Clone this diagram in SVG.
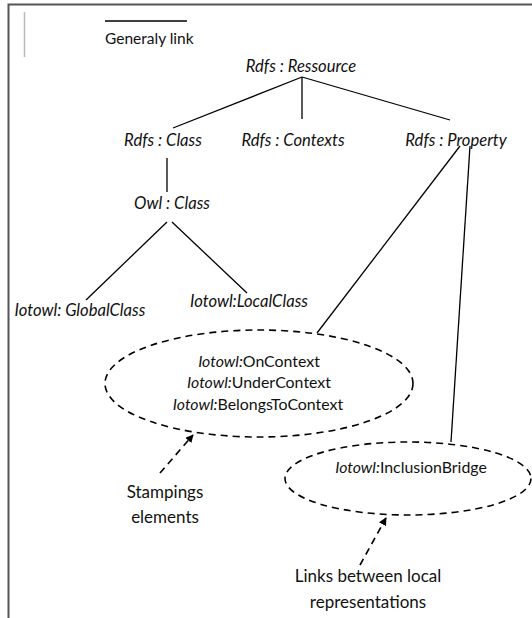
<svg xmlns="http://www.w3.org/2000/svg" width="532" height="618" viewBox="0 0 532 618">
<defs>
<style>
text{font-family:Lato,"Liberation Sans",sans-serif;font-size:15.5px;fill:#111}
.it{font-style:italic;font-size:16.6px}
.el{font-size:15.9px}
.big{font-size:17px}
.ln{stroke:#000;stroke-width:1.3;fill:none}
.dash{stroke:#000;stroke-width:1.6;fill:none;stroke-dasharray:7 5}
.frame{stroke:#555;stroke-width:2;fill:none}
</style>
<marker id="ah" viewBox="0 0 10 10" refX="9" refY="5" markerWidth="5" markerHeight="5" orient="auto" markerUnits="strokeWidth">
<path d="M0,0 L10,5 L0,10 z" fill="#000"/>
</marker>
</defs>
<rect width="532" height="618" fill="#fff"/>
<path class="frame" d="M8.5,618 V4.5 H532"/>
<line x1="24.5" y1="12" x2="24.5" y2="57" stroke="#bbb" stroke-width="1.5"/>
<g id="legend">
<line x1="105" y1="21" x2="187" y2="21" class="ln"/>
<text x="105" y="44">Generaly link</text>
</g>
<g id="connectors">
<line class="ln" x1="302" y1="77" x2="173" y2="128"/>
<line class="ln" x1="302" y1="77" x2="302" y2="119"/>
<line class="ln" x1="302" y1="77" x2="450" y2="120"/>
<line class="ln" x1="167" y1="158" x2="167" y2="192"/>
<line class="ln" x1="167" y1="222" x2="86" y2="300"/>
<line class="ln" x1="172" y1="222" x2="247" y2="293"/>
<line class="ln" x1="460" y1="146" x2="317" y2="333"/>
<line class="ln" x1="470" y1="146" x2="451" y2="442"/>
<line class="dash" x1="160" y1="473" x2="193" y2="435" marker-end="url(#ah)"/>
<line class="dash" x1="360" y1="565" x2="386" y2="518" marker-end="url(#ah)"/>
</g>
<g id="ressource"><text class="it" x="301" y="72" text-anchor="middle">Rdfs : Ressource</text></g>
<g id="class"><text class="it" x="163" y="146" text-anchor="middle">Rdfs : Class</text></g>
<g id="contexts"><text class="it" x="293" y="146" text-anchor="middle">Rdfs : Contexts</text></g>
<g id="property"><text class="it" x="456" y="146" text-anchor="middle">Rdfs : Property</text></g>
<g id="owlclass"><text class="it" x="172" y="209" text-anchor="middle">Owl : Class</text></g>
<g id="globalclass"><text class="it" x="80" y="316" text-anchor="middle">Iotowl: GlobalClass</text></g>
<g id="localclass"><text class="it" x="249" y="307" text-anchor="middle">Iotowl:LocalClass</text></g>
<g id="contextprops">
<ellipse class="dash" cx="259" cy="383.5" rx="154" ry="53.5"/>
<text class="el" x="259" y="367" text-anchor="middle"><tspan font-style="italic">Iotowl:</tspan>OnContext</text>
<text class="el" x="259" y="388" text-anchor="middle"><tspan font-style="italic">Iotowl:</tspan>UnderContext</text>
<text class="el" x="258" y="410" text-anchor="middle"><tspan font-style="italic">Iotowl:</tspan>BelongsToContext</text>
</g>
<g id="inclusionbridge">
<ellipse class="dash" cx="408" cy="478.5" rx="123" ry="36.5"/>
<text class="el" x="411" y="473" text-anchor="middle"><tspan font-style="italic">Iotowl:</tspan>InclusionBridge</text>
</g>
<g id="stampings">
<text class="big" x="165" y="498" text-anchor="middle">Stampings</text>
<text class="big" x="165" y="523" text-anchor="middle">elements</text>
</g>
<g id="links">
<text class="big" x="368" y="582" text-anchor="middle">Links between local</text>
<text class="big" x="368" y="608" text-anchor="middle">representations</text>
</g>
</svg>
